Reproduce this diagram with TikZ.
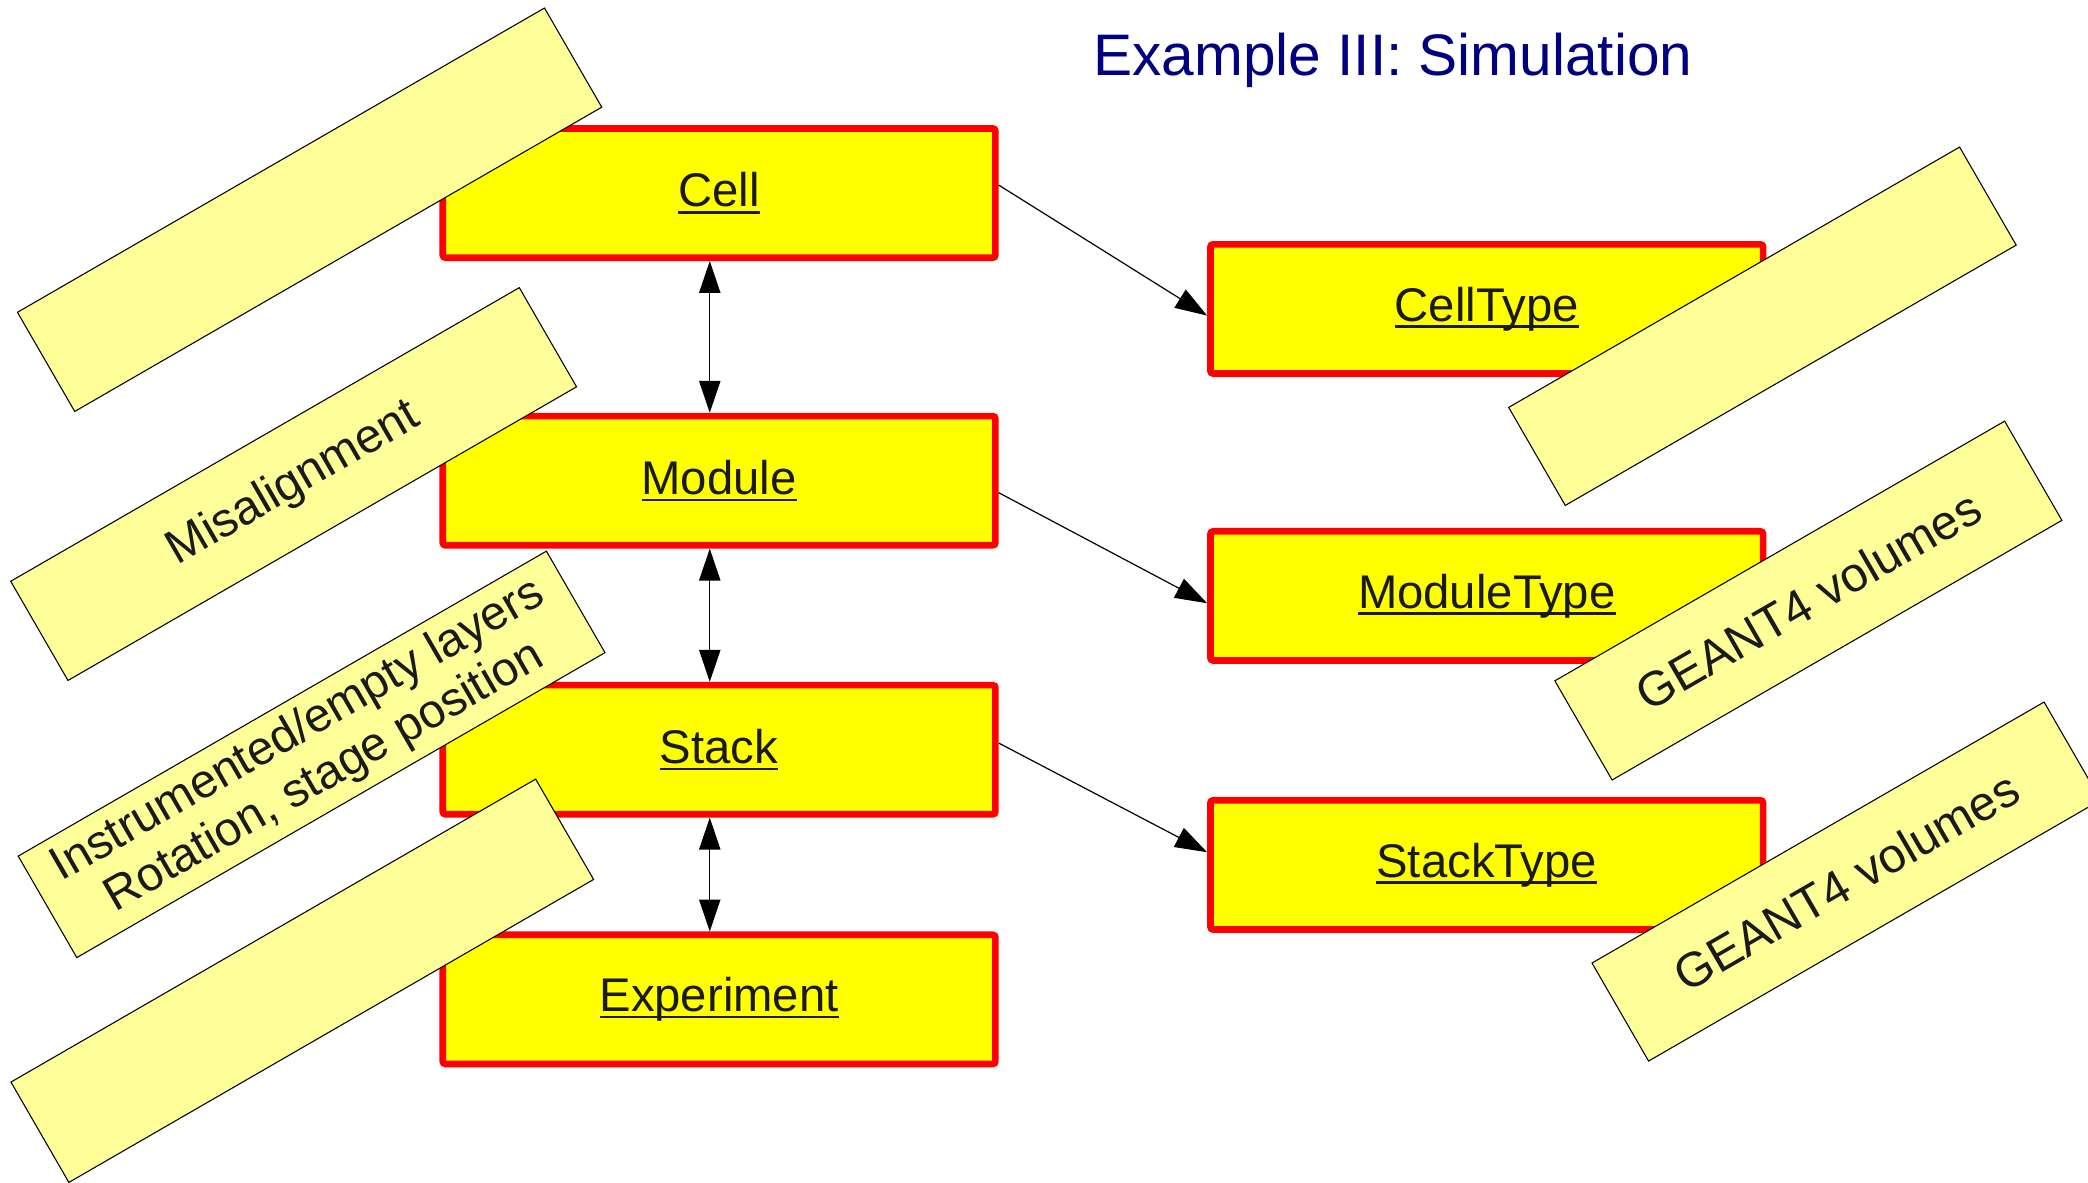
\documentclass[tikz,border=0pt]{standalone}
\usepackage{fontspec}
\setmainfont{Liberation Sans}
\usetikzlibrary{arrows.meta}

\definecolor{boxfill}{RGB}{255,255,0}
\definecolor{boxline}{RGB}{255,0,0}
\definecolor{notefill}{RGB}{255,255,153}
\definecolor{titleblue}{RGB}{0,0,128}
\definecolor{ink}{RGB}{26,26,26}

% underlined class name with a rule scaled to the font
\newcommand{\classname}[1]{\setbox0\hbox{#1}%
  \rlap{\rule[-0.14em]{\wd0}{0.055em}}\box0}

\begin{document}
\begin{tikzpicture}[x=1pt,y=-1pt,
  entity/.style={draw=boxline, fill=boxfill, line width=5pt, rounded corners=2pt,
    minimum width=415pt, minimum height=97pt, inner sep=0pt, text=ink,
    font=\fontsize{35.5}{40}\selectfont},
  note/.style={draw=black, fill=notefill, line width=0.8pt, rotate=30,
    inner sep=0pt, text=ink, align=center},
  link/.style={line width=0.9pt, -{Triangle[length=24pt,width=16pt]}},
  both/.style={line width=0.9pt,
    {Triangle[length=24pt,width=16pt]}-{Triangle[length=24pt,width=16pt]}}
]
\useasboundingbox (0,0) rectangle (1568,888);

% title
\node[font=\fontsize{44}{50}\selectfont, text=titleblue, anchor=base]
  (title) at (1046,57) {Example III: Simulation};

% class boxes
\node[entity] (cell)       at (540,145)    {\classname{Cell}};
\node[entity] (module)     at (540,361)    {\classname{Module}};
\node[entity] (stack)      at (540,563)    {\classname{Stack}};
\node[entity] (experiment) at (540,750.5)  {\classname{Experiment}};
\node[entity] (celltype)   at (1116.5,232) {\classname{CellType}};
\node[entity] (moduletype) at (1116.5,447.5) {\classname{ModuleType}};
\node[entity] (stacktype)  at (1116.5,649.5) {\classname{StackType}};

% hierarchy
\draw[both] ([xshift=-7pt]cell.south)   -- ([xshift=-7pt]module.north);
\draw[both] ([xshift=-7pt]module.south) -- ([xshift=-7pt]stack.north);
\draw[both] ([xshift=-7pt]stack.south)  -- ([xshift=-7pt]experiment.north);

% type references
\draw[link] ([yshift=6pt]cell.east)   -- ([yshift=-5pt]celltype.west);
\draw[link] ([yshift=-9pt]module.east) -- ([yshift=-5.5pt]moduletype.west);
\draw[link] ([yshift=5pt]stack.east)  -- ([yshift=9.5pt]stacktype.west);

% annotations
\node[note, minimum width=457pt, minimum height=86pt] (n1) at (232.5,157.5) {};
\node[note, minimum width=441pt, minimum height=86pt,
  font=\fontsize{36}{40}\selectfont] (n2) at (220.5,363.5) {Misalignment};
\node[note, minimum width=458pt, minimum height=88pt,
  font=\fontsize{35.7}{40}\selectfont] (n3) at (234,566.5)
  {Instrumented/empty layers\\Rotation, stage position};
\node[note, minimum width=455pt, minimum height=87pt] (n4) at (227,736.5) {};
\node[note, minimum width=391pt, minimum height=85pt] (n5) at (1323.5,245) {};
\node[note, minimum width=390pt, minimum height=86pt,
  font=\fontsize{36.5}{40}\selectfont] (n6) at (1358,451) {GEANT4 volumes};
\node[note, minimum width=392pt, minimum height=85pt,
  font=\fontsize{36.5}{40}\selectfont] (n7) at (1386.5,662) {GEANT4 volumes};
\end{tikzpicture}
\end{document}
